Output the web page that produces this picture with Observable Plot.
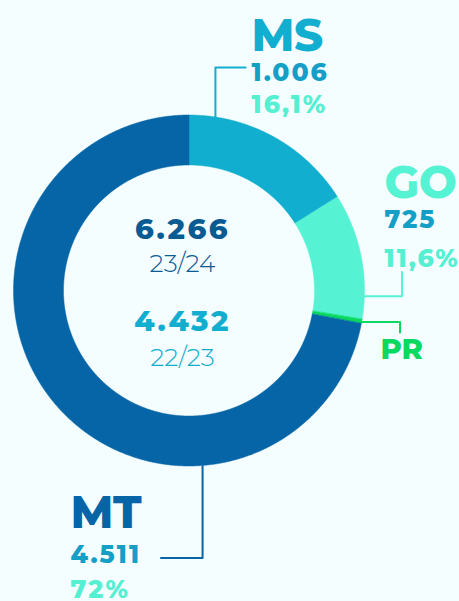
<!DOCTYPE html>
<html>
<head>
<meta charset="utf-8">
<script src="https://cdn.jsdelivr.net/npm/d3@7"></script>
<script src="https://cdn.jsdelivr.net/npm/@observablehq/plot@0.6"></script>
<style>
  html, body { margin: 0; padding: 0; background: #f4fdff; }
  #chart svg { display: block; background: #f4fdff; }
</style>
</head>
<body>
<div id="chart"></div>
<script>
// ---- data ----
const states = ["MS", "GO", "PR", "MT"];
const values = [1006, 725, 24, 4511];
const valueLabels = ["1.006", "725", "", "4.511"];
const percentLabels = ["16,1%", "11,6%", "", "72%"];
const totalLabels = ["6.266", "4.432"];
const seasonLabels = ["23/24", "22/23"];

// ---- styles / layout ----
const colors = ["#12aecf", "#55f3d4", "#0ad95f", "#0565a6"];
const W = 459, H = 601, CX = 189, CY = 290.5, R_IN = 125.5, R_OUT = 175.5;
const FONT = "Montserrat, Inter, 'Open Sans', sans-serif";

// label anchors (left x, baselines) in page pixels
const labelLayout = {
  MS: {x: 251, name: 50, value: 80, pct: 112},
  GO: {x: 384, name: 197, value: 227, pct: 266},
  PR: {x: 380, name: 358},
  MT: {x: 70, name: 527, value: 562, pct: 597}
};
// leader lines: position along slice (0..1), direction, elbow and end (page px)
const leaderLayout = {
  MS: {t: 0.147, dir: "v", elbow: 67, end: 245},
  GO: {t: 0.815, dir: "h", elbow: 401.5, end: 271.5},
  PR: {t: 0.5, dir: "h", elbow: 399.5, end: 332},
  MT: {t: 0.289, dir: "v", elbow: 557.5, end: 160.5}
};
const centerLayout = {x: 182, totals: [238.5, 330], seasons: [271.5, 365]};

// ---- geometry from data ----
const arcs = d3.pie().sort(null).value(d => d)(values);
const ring = [];
arcs.forEach((p, i) => {
  const n = Math.max(4, Math.ceil((p.endAngle - p.startAngle) / 0.004));
  for (let k = 0; k <= n; k++) {
    const a = p.startAngle + (p.endAngle - p.startAngle) * k / n;
    ring.push({
      state: states[i],
      xi: R_IN * Math.sin(a), yi: -R_IN * Math.cos(a),
      xo: R_OUT * Math.sin(a), yo: -R_OUT * Math.cos(a)
    });
  }
});

const leaders = [];
arcs.forEach((p, i) => {
  const s = states[i], L = leaderLayout[s];
  const a = p.startAngle + (p.endAngle - p.startAngle) * L.t;
  const sx = R_OUT * Math.sin(a), sy = -R_OUT * Math.cos(a);
  leaders.push({state: s, x: sx, y: sy});
  if (L.dir === "v") {
    leaders.push({state: s, x: sx, y: L.elbow - CY});
    leaders.push({state: s, x: L.end - CX, y: L.elbow - CY});
  } else {
    leaders.push({state: s, x: L.elbow - CX, y: sy});
    leaders.push({state: s, x: L.elbow - CX, y: L.end - CY});
  }
});

const nameRows = states.map(s => ({state: s, x: labelLayout[s].x - CX, y: labelLayout[s].name - CY}));
const valueRows = states.map((s, i) => ({text: valueLabels[i], x: labelLayout[s].x - CX, y: (labelLayout[s].value ?? 0) - CY})).filter(d => d.text);
const pctRows = states.map((s, i) => ({text: percentLabels[i], x: labelLayout[s].x - CX, y: (labelLayout[s].pct ?? 0) - CY})).filter(d => d.text);

const totalColors = ["#0b5b93", "#12aecf"];

const chart = Plot.plot({
  width: W, height: H, margin: 0,
  x: {domain: [-CX, W - CX], axis: null},
  y: {domain: [-CY, H - CY], reverse: true, axis: null},
  color: {domain: states, range: colors},
  style: {background: "transparent", fontFamily: FONT},
  marks: [
    Plot.area(ring, {x1: "xi", y1: "yi", x2: "xo", y2: "yo", z: "state", fill: "state", stroke: "state", strokeWidth: 0.5, curve: "linear"}),
    Plot.line(leaders, {x: "x", y: "y", z: "state", stroke: "state", strokeWidth: 2, curve: "linear"}),
    Plot.text(nameRows.filter(d => d.state !== "PR"), {x: "x", y: "y", text: "state", fill: "state", textAnchor: "start", lineAnchor: "bottom", fontSize: 45, fontWeight: 800}),
    Plot.text(nameRows.filter(d => d.state === "PR"), {x: "x", y: "y", text: "state", fill: "state", textAnchor: "start", lineAnchor: "bottom", fontSize: 29, fontWeight: 800}),
    Plot.text(valueRows, {x: "x", y: "y", text: "text", fill: "#159fc6", textAnchor: "start", lineAnchor: "bottom", fontSize: 25, fontWeight: 800}),
    Plot.text(pctRows, {x: "x", y: "y", text: "text", fill: "#55f0d2", textAnchor: "start", lineAnchor: "bottom", fontSize: 25, fontWeight: 800}),
    Plot.text(totalLabels, {x: () => centerLayout.x - CX, y: (d, i) => centerLayout.totals[i] - CY, text: d => d, fill: (d, i) => totalColors[i], textAnchor: "middle", lineAnchor: "bottom", fontSize: 29, fontWeight: 800}),
    Plot.text(seasonLabels, {x: () => centerLayout.x - CX, y: (d, i) => centerLayout.seasons[i] - CY, text: d => d, fill: (d, i) => totalColors[i], textAnchor: "middle", lineAnchor: "bottom", fontSize: 25, fontWeight: 300})
  ]
});
// widen number typography to approximate the reference's geometric font
const textGroups = chart.querySelectorAll('g[aria-label="text"]');
const spacing = ["-0.5px", "0px", "2px", "2px", "2.5px", "0px"];
textGroups.forEach((g, i) => { g.style.letterSpacing = spacing[i] || "0px"; });
document.getElementById("chart").appendChild(chart);
</script>
</body>
</html>
